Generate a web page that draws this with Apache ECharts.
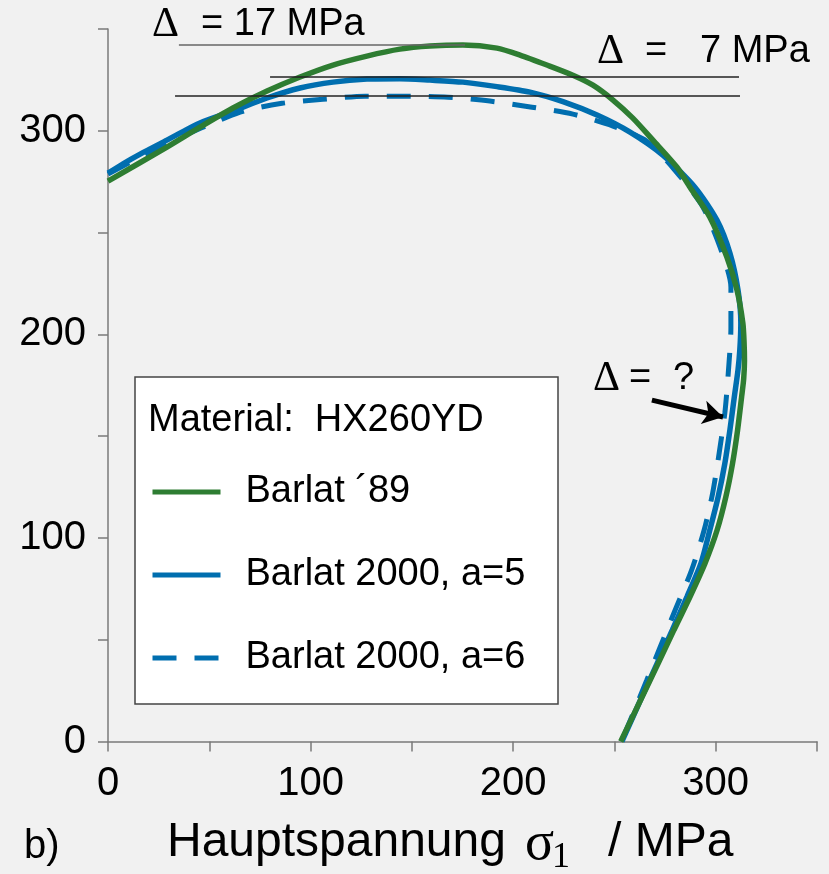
<!DOCTYPE html>
<html>
<head>
<meta charset="utf-8">
<script src="https://cdn.jsdelivr.net/npm/echarts@6/dist/echarts.min.js"></script>
<style>
  html, body { margin: 0; padding: 0; background: #f1f1f1; }
  #chart { width: 829px; height: 874px; }
</style>
</head>
<body>
<div id="chart"></div>
<script>
// Fliessortskurven [sigma1, sigma2] in MPa
const barlat89 = [
  [0, 275.3], [29.1, 292.0], [45.4, 301.8], [61.7, 311.2], [78.5, 319.5],
  [94.8, 326.4], [111.1, 332.3], [127.8, 336.7], [144.1, 340.1], [158.9, 341.6],
  [175.2, 342.1], [192.0, 340.6], [203.4, 337.2], [216.7, 332.3], [229.5, 327.3],
  [239.4, 322.4], [249.3, 315.1], [259.1, 306.2], [269.0, 295.4], [280.8, 282.2],
  [287.3, 272.3], [297.1, 257.6], [305.5, 238.0], [310.5, 221.8], [313.4, 205.5],
  [314.0, 196.0], [314.2, 187.0], [313.8, 178.0], [312.8, 169.4], [310.8, 153.0],
  [308.3, 136.6], [305.0, 120.2], [300.7, 103.9], [294.7, 87.5], [287.3, 71.1],
  [279.4, 54.8], [271.6, 38.4], [263.7, 22.0], [253.1, 0]
];
const barlat2000a5 = [
  [0, 279.2], [12.3, 286.6], [29.1, 295.4], [45.4, 303.8], [61.7, 309.7],
  [78.5, 316.1], [94.8, 321.0], [111.1, 323.9], [127.8, 325.4], [144.1, 325.6],
  [158.9, 324.9], [175.2, 323.9], [192.0, 321.7], [208.3, 319.0], [224.6, 314.3],
  [241.4, 307.7], [257.7, 299.3], [273.9, 288.0], [289.7, 272.3], [300.6, 256.1],
  [307.0, 239.9], [311.0, 221.8], [312.4, 205.5], [311.9, 192.3], [311.0, 182.5],
  [309.2, 169.4], [307.0, 153.0], [304.5, 136.6], [301.2, 120.2], [297.1, 103.9],
  [292.7, 87.5], [285.8, 71.1], [278.6, 54.8], [271.1, 38.4], [263.6, 22.0],
  [253.7, 0]
];
const barlat2000a6 = [
  [0, 278.7], [27.1, 292.9], [65.2, 309.1], [85.9, 313.5], [106.1, 315.5],
  [126.9, 317.0], [147.6, 317.0], [167.8, 316.5], [188.5, 314.6], [209.3, 311.6],
  [229.5, 308.2], [249.3, 302.3], [266.0, 294.9], [279.9, 280.6], [293.7, 262.5],
  [302.1, 242.9], [307.5, 223.2], [307.5, 203.1], [306.2, 181.0], [304.5, 161.3],
  [301.7, 141.7], [298.5, 122.1], [294.3, 103.9], [288.1, 84.2], [280.0, 64.6],
  [272.6, 46.4], [266.0, 30.2], [253.5, 0]
];
// thin reference lines [xFrom, xTo, y]
const deltaLines = [
  [35.0, 176.2, 342.4],
  [80.0, 311.5, 326.4],
  [33.1, 312.0, 317.0]
];
const arrowFrom = [268.5, 167.7];
const arrowTo = [303.6, 159.4];

const seriesNames = ['Barlat \u00b489', 'Barlat 2000, a=5', 'Barlat 2000, a=6'];
const green = '#2e7d32';
const blue = '#006eaf';
const sans = "'Liberation Sans', Arial, sans-serif";
const serif = "'Liberation Serif', 'Times New Roman', serif";

function txt(text, x, y, size, family) {
  return {
    type: 'text', x: x, y: y, silent: true, z: 10,
    style: {
      text: text, fill: '#000', fontSize: size, fontFamily: family || sans,
      align: 'left', verticalAlign: 'middle'
    }
  };
}

const chart = echarts.init(document.getElementById('chart'));

const axisStyle = {
  lineStyle: { color: '#7a7a7a', width: 1.5 }
};

chart.setOption({
  animation: false,
  backgroundColor: '#f1f1f1',
  grid: { left: 108, right: 12, top: 29, bottom: 132.5, containLabel: false },
  xAxis: {
    type: 'value', min: 0, max: 350, interval: 50,
    axisLine: { show: true, onZero: false, ...axisStyle },
    axisTick: { show: true, inside: false, length: 10, ...axisStyle },
    splitLine: { show: false },
    axisLabel: {
      margin: 22, fontSize: 40, color: '#000', fontFamily: sans,
      formatter: v => (v % 100 === 0 ? String(v) : '')
    }
  },
  yAxis: {
    type: 'value', min: 0, max: 350, interval: 50,
    axisLine: { show: true, onZero: false, ...axisStyle },
    axisTick: { show: true, inside: false, length: 10, ...axisStyle },
    splitLine: { show: false },
    axisLabel: {
      margin: 22, fontSize: 40, color: '#000', fontFamily: sans,
      formatter: v => (v % 100 === 0 ? String(v) : '')
    }
  },
  legend: {
    data: seriesNames,
    orient: 'vertical',
    left: 150,
    top: 472,
    padding: 0,
    itemGap: 43,
    itemWidth: 68,
    itemHeight: 2,
    selectedMode: false,
    lineStyle: { width: 5 },
    itemStyle: { color: 'rgba(0,0,0,0)', borderColor: 'rgba(0,0,0,0)', borderWidth: 0 },
    textStyle: {
      fontSize: 38, color: '#000', fontFamily: sans,
      lineHeight: 40, padding: [0, 0, 0, 20]
    }
  },
  graphic: [
    {
      type: 'rect', z: 0, silent: true,
      shape: { x: 135, y: 377, width: 423, height: 327 },
      style: { fill: '#fff', stroke: '#444', lineWidth: 1.5 }
    },
    txt('Material:  HX260YD', 148, 421, 38),
    txt('\u0394', 152, 25, 42, serif),
    txt('= 17 MPa', 201, 25, 38),
    txt('\u0394', 597, 52, 42, serif),
    txt('=', 645, 52, 38),
    txt('7 MPa', 700, 52, 38),
    txt('\u0394', 593, 379, 42, serif),
    txt('=', 629, 379, 38),
    txt('?', 673, 379, 38),
    txt('b)', 24, 847, 40),
    txt('Hauptspannung', 167, 843, 48),
    txt('\u03c3', 525, 845, 54, serif),
    txt('1', 552, 858, 36, serif),
    txt('/ MPa', 608, 843, 48)
  ],
  series: [
    {
      name: seriesNames[1], type: 'line', data: barlat2000a5,
      symbol: 'none', showSymbol: false, smooth: 0.25, z: 2,
      lineStyle: { color: blue, width: 5.5 }, itemStyle: { color: blue }
    },
    {
      name: seriesNames[2], type: 'line', data: barlat2000a6,
      symbol: 'none', showSymbol: false, smooth: 0.25, z: 3,
      lineStyle: { color: blue, width: 5, type: [24, 18] }, itemStyle: { color: blue }
    },
    {
      name: seriesNames[0], type: 'line', data: barlat89,
      symbol: 'none', showSymbol: false, smooth: 0.25, z: 4,
      lineStyle: { color: green, width: 5.5 }, itemStyle: { color: green }
    },
    {
      name: 'annotations', type: 'line', data: [], z: 5,
      markLine: {
        silent: true, animation: false,
        symbol: ['none', 'none'],
        label: { show: false },
        data: deltaLines.map((d, i) => [
          { coord: [d[0], d[2]], lineStyle: { color: i === 0 ? '#666' : '#222', width: 1.5, type: 'solid' } },
          { coord: [d[1], d[2]] }
        ]).concat([[
          { coord: arrowFrom, symbol: 'none', lineStyle: { color: '#000', width: 5, type: 'solid' } },
          { coord: arrowTo, symbol: 'arrow', symbolSize: [18, 20] }
        ]])
      }
    }
  ]
});
</script>
</body>
</html>
